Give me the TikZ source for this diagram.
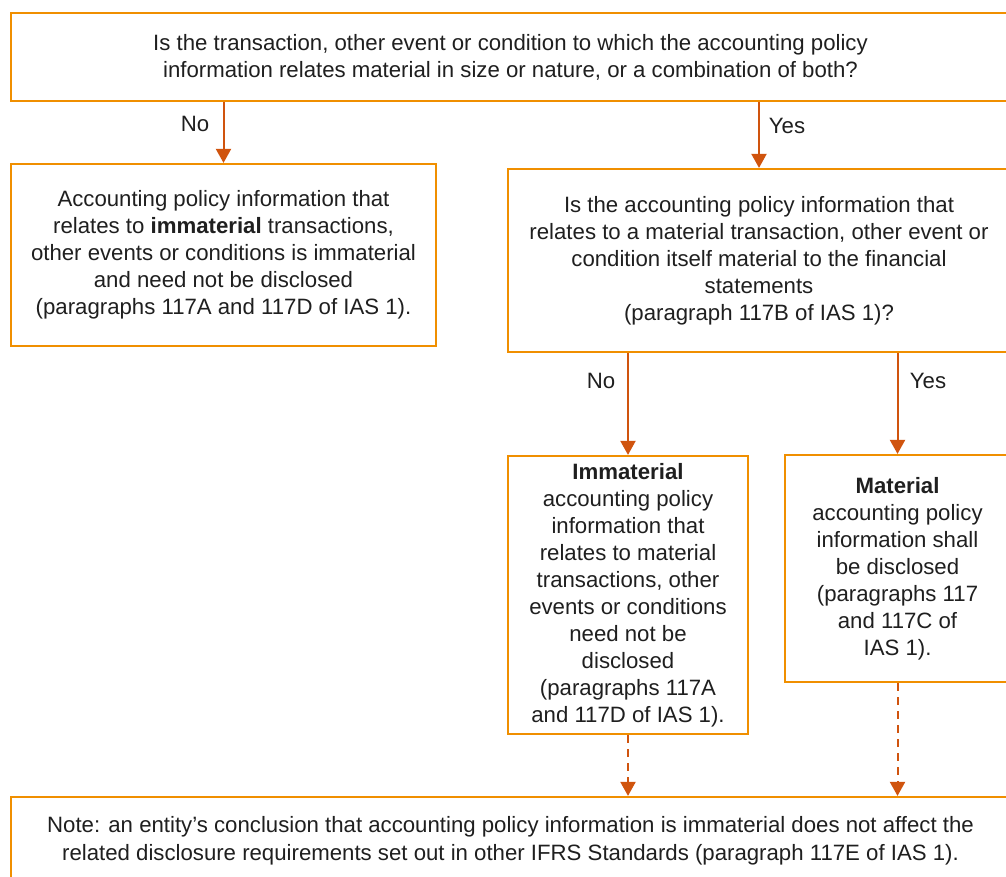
\documentclass[tikz,border=0pt]{standalone}
\usepackage{fontspec}
\setmainfont{Liberation Sans}
\usetikzlibrary{arrows.meta}
\definecolor{boxorange}{RGB}{240,143,0}
\definecolor{arroworange}{RGB}{208,84,14}
\tikzset{
  box/.style={draw=boxorange, line width=2.2pt, rectangle, align=center, inner sep=0pt,
    font=\fontsize{22.2}{27}\selectfont, text=black!88},
  conn/.style={draw=arroworange, line width=2pt, -{Triangle[width=15pt,length=14pt]}},
  dconn/.style={conn, dash pattern=on 8pt off 6pt},
  lbl/.style={font=\fontsize{22.2}{27}\selectfont, text=black!88, inner sep=0pt}
}
\begin{document}
\begin{tikzpicture}[x=1pt,y=-1pt]
\clip (0,0) rectangle (1006,877);
\fill[white] (0,0) rectangle (1006,877);
\node[box, minimum width=999pt, minimum height=88pt] (q1) at (510.5,57)
  {Is the transaction, other event or condition to which the accounting policy\\information relates material in size or nature, or a combination of both?};
\node[box, minimum width=425pt, minimum height=182pt] (left) at (223.5,255)
  {Accounting policy information that\\relates to \textbf{immaterial} transactions,\\other events or conditions is immaterial\\and need not be disclosed\\(paragraphs 117A and 117D of IAS 1).};
\node[box, minimum width=502pt, minimum height=183pt] (q2) at (759,260.5)
  {Is the accounting policy information that\\relates to a material transaction, other event or\\condition itself material to the financial\\statements\\(paragraph 117B of IAS 1)?};
\node[box, minimum width=240pt, minimum height=278pt] (imm) at (628,595)
  {\textbf{Immaterial}\\accounting policy\\information that\\relates to material\\transactions, other\\events or conditions\\need not be\\disclosed\\(paragraphs 117A\\and 117D of IAS 1).};
\node[box, minimum width=225pt, minimum height=227pt] (mat) at (897.5,568.5)
  {\textbf{Material}\\accounting policy\\information shall\\be disclosed\\(paragraphs 117\\and 117C of\\IAS 1).};
\node[box, minimum width=999pt, minimum height=88pt, font=\fontsize{22.2}{28}\selectfont] (note) at (510.5,841)
  {Note: an entity’s conclusion that accounting policy information is immaterial does not affect the\\related disclosure requirements set out in other IFRS Standards (paragraph 117E of IAS 1).};

\draw[conn] (left.north |- q1.south) -- (left.north);
\draw[conn] (q2.north |- q1.south) -- (q2.north);
\draw[conn] (imm.north |- q2.south) -- (imm.north);
\draw[conn] (mat.north |- q2.south) -- (mat.north);
\draw[dconn] (imm.south) -- (imm.south |- note.north);
\draw[dconn] (mat.south) -- (mat.south |- note.north);

\node[lbl] (lno1) at (195,124) {No};
\node[lbl] (lyes1) at (787,126) {Yes};
\node[lbl] (lno2) at (601,381) {No};
\node[lbl] (lyes2) at (928,381) {Yes};
\end{tikzpicture}
\end{document}
